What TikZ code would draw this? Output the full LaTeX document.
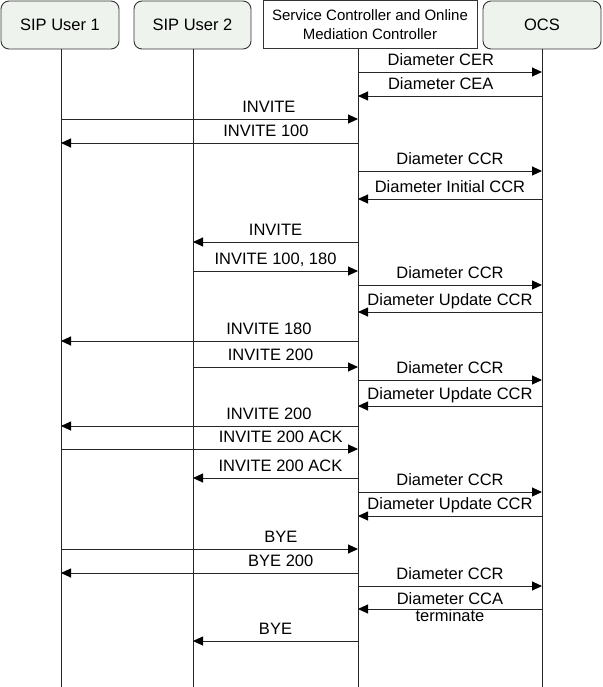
\documentclass[tikz,border=0pt]{standalone}
\usepackage{fontspec}
\setmainfont{Liberation Sans}
\usepackage{tikz}
\usetikzlibrary{positioning, arrows.meta, calc}
\definecolor{boxfill}{HTML}{EEF3EE}

\begin{document}
\begin{tikzpicture}[x=1pt, y=-1pt,
  actor/.style={draw=black!80, line width=0.9pt, rounded corners=8pt, fill=boxfill,
    minimum width=118pt, minimum height=48pt, inner sep=0pt,
    font=\fontsize{16.5}{19}\selectfont},
  ctrl/.style={draw=black!80, line width=0.9pt, fill=white, minimum width=214pt,
    minimum height=48pt, inner sep=0pt, align=center,
    font=\fontsize{15}{19}\selectfont},
  life/.style={draw=black!85, line width=0.9pt},
  msg/.style={draw=black!85, line width=0.9pt,
    -{Triangle[length=10pt, width=9pt, color=black, fill=black]}},
  lbl/.style={midway, above, inner sep=2pt, text depth=4pt, font=\fontsize{16.5}{19}\selectfont}]
\useasboundingbox (0,0) rectangle (602,687);

% header boxes
\node[actor] (u1) at (60,25) {SIP User 1};
\node[actor, minimum width=117pt] (u2) at (192.5,25) {SIP User 2};
\node[ctrl] (sc) at (370,24.5) {Service Controller and Online\\Mediation Controller};
\node[actor] (ocs) at (542,25) {OCS};

% lifelines
\coordinate (t1) at (61,49);  \coordinate (b1) at (61,687);
\coordinate (t2) at (193,49); \coordinate (b2) at (193,687);
\coordinate (t3) at (358,48); \coordinate (b3) at (358,687);
\coordinate (t4) at (542,49); \coordinate (b4) at (542,687);
\draw[life] (t1) -- (b1);
\draw[life] (t2) -- (b2);
\draw[life] (t3) -- (b3);
\draw[life] (t4) -- (b4);

% capabilities exchange
\draw[msg] (t3 |- 0,72) -- (t4 |- 0,72) node[lbl, pos=0.45] {Diameter CER};
\draw[msg] (t4 |- 0,96) -- (t3 |- 0,96) node[lbl, pos=0.55] {Diameter CEA};

% call setup
\draw[msg] (t1 |- 0,119) -- (t3 |- 0,119) node[lbl, pos=0.70] {INVITE};
\draw[msg] (t3 |- 0,143) -- (t1 |- 0,143) node[lbl, pos=0.31] {INVITE 100};
\draw[msg] (t3 |- 0,171) -- (t4 |- 0,171) node[lbl] {Diameter CCR};
\draw[msg] (t4 |- 0,199) -- (t3 |- 0,199) node[lbl] {Diameter Initial CCR};
\draw[msg] (t3 |- 0,242) -- (t2 |- 0,242) node[lbl] {INVITE};
\draw[msg] (t2 |- 0,271) -- (t3 |- 0,271) node[lbl] {INVITE 100, 180};
\draw[msg] (t3 |- 0,285) -- (t4 |- 0,285) node[lbl] {Diameter CCR};
\draw[msg] (t4 |- 0,312) -- (t3 |- 0,312) node[lbl] {Diameter Update CCR};
\draw[msg] (t3 |- 0,341) -- (t1 |- 0,341) node[lbl, pos=0.30] {INVITE 180};
\draw[msg] (t2 |- 0,367) -- (t3 |- 0,367) node[lbl, pos=0.47] {INVITE 200};
\draw[msg] (t3 |- 0,380) -- (t4 |- 0,380) node[lbl] {Diameter CCR};
\draw[msg] (t4 |- 0,406) -- (t3 |- 0,406) node[lbl] {Diameter Update CCR};
\draw[msg] (t3 |- 0,426) -- (t1 |- 0,426) node[lbl, pos=0.30] {INVITE 200};
\draw[msg] (t1 |- 0,449) -- (t3 |- 0,449) node[lbl, pos=0.74] {INVITE 200 ACK};
\draw[msg] (t3 |- 0,478) -- (t2 |- 0,478) node[lbl, pos=0.47] {INVITE 200 ACK};
\draw[msg] (t3 |- 0,492) -- (t4 |- 0,492) node[lbl] {Diameter CCR};
\draw[msg] (t4 |- 0,516) -- (t3 |- 0,516) node[lbl] {Diameter Update CCR};

% release
\draw[msg] (t1 |- 0,549) -- (t3 |- 0,549) node[lbl, pos=0.74] {BYE};
\draw[msg] (t3 |- 0,573) -- (t1 |- 0,573) node[lbl, pos=0.26] {BYE 200};
\draw[msg] (t3 |- 0,586) -- (t4 |- 0,586) node[lbl] {Diameter CCR};
\draw[msg] (t4 |- 0,609) -- (t3 |- 0,609)
  node[midway, yshift=1.5pt, align=center, inner sep=0pt,
       font=\fontsize{16.5}{17}\selectfont] {Diameter CCA\\terminate};
\draw[msg] (t3 |- 0,641) -- (t2 |- 0,641) node[lbl] {BYE};
\end{tikzpicture}
\end{document}
